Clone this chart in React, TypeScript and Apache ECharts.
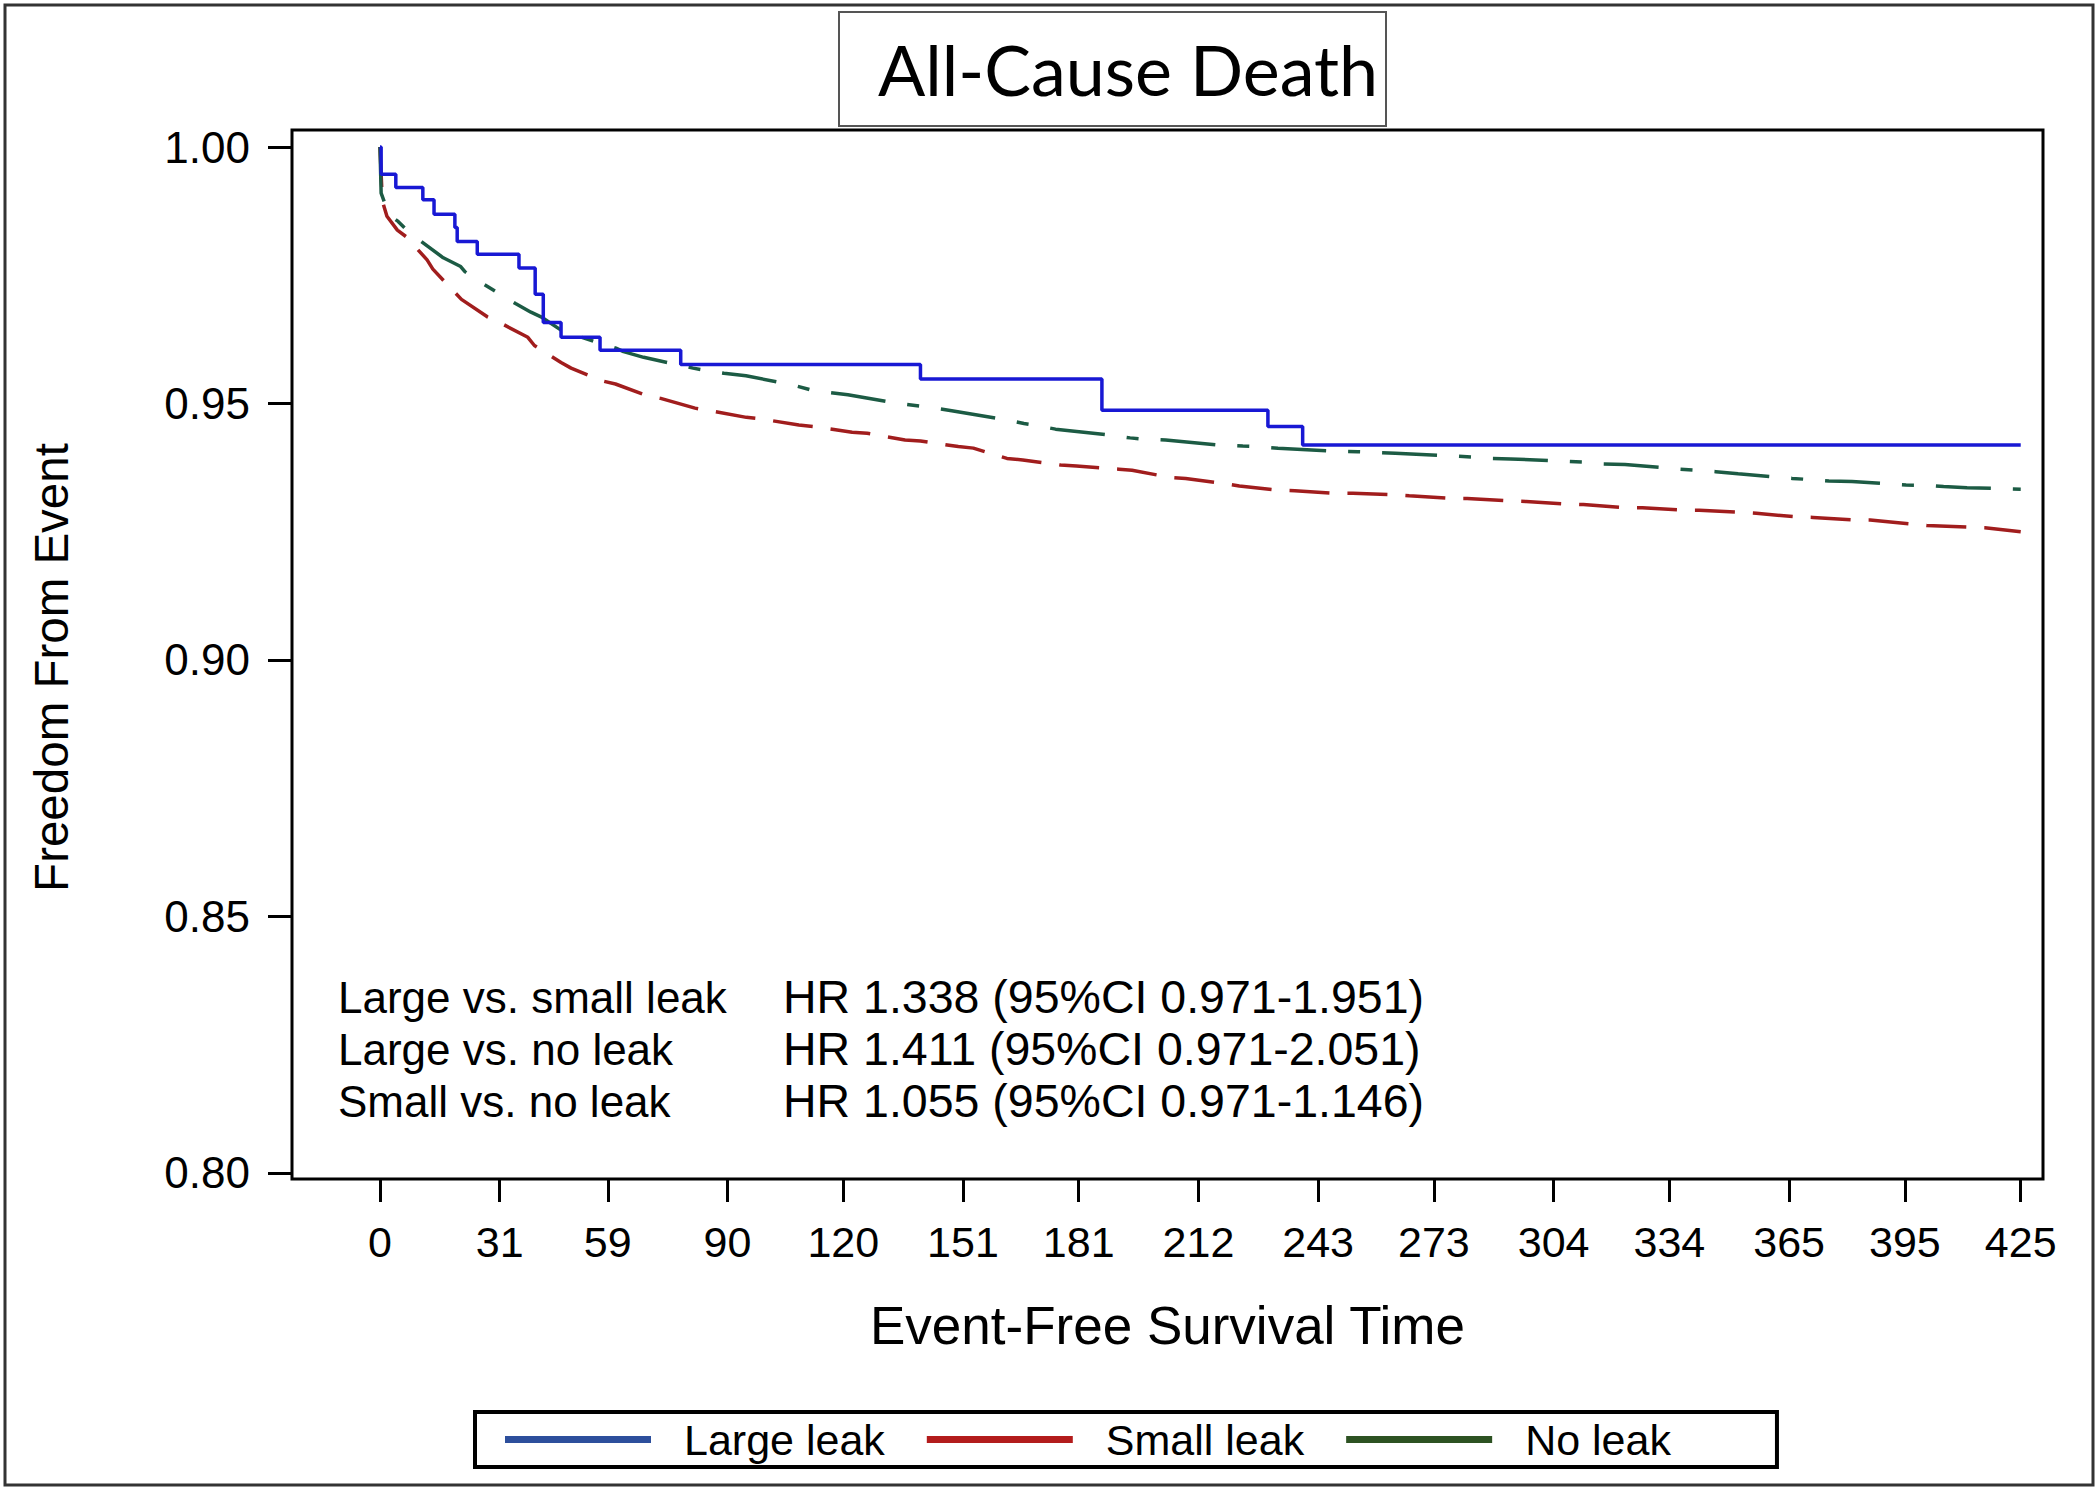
import React, { useEffect, useRef } from "react";
import * as echarts from "echarts";

// ---- data ----
const titleText = "All-Cause Death";
const seriesNames = ["Large leak", "Small leak", "No leak"];
const xTicks = [0, 31, 59, 90, 120, 151, 181, 212, 243, 273, 304, 334, 365, 395, 425];
const yTicks = [0.8, 0.85, 0.9, 0.95, 1.0];

// [day, survival]
const largeLeak = [
  [0, 1.0], [0.3, 0.9947], [4.1, 0.9921], [11.1, 0.9897], [14, 0.9869], [19.4, 0.9843],
  [20, 0.9816], [25.2, 0.9791], [36, 0.9764], [40.2, 0.9713], [42.3, 0.9658], [46.9, 0.9629],
  [57, 0.9604], [77.9, 0.9576], [140, 0.9548], [187, 0.9487], [230, 0.9455], [239, 0.9419],
  [425, 0.9419],
];

const smallLeak = [
  [0, 1.0], [0.6, 0.9895], [1.8, 0.9865], [4.5, 0.9838], [6.8, 0.9825], [12.2, 0.978],
  [13.7, 0.9762], [19.2, 0.9718], [21.1, 0.9703], [27.8, 0.9669], [30.7, 0.9659], [38.3, 0.9629],
  [40, 0.9613], [46.9, 0.958], [49.5, 0.9569], [57.6, 0.9544], [61, 0.9538], [69.2, 0.9515],
  [72.7, 0.951], [81.6, 0.9491], [85.4, 0.9486], [94.9, 0.9473], [98.7, 0.947], [108.5, 0.9458],
  [112.3, 0.9455], [122.3, 0.9444], [126.2, 0.9442], [136, 0.9429], [140, 0.9427], [149.8, 0.9416],
  [153.7, 0.9413], [162.4, 0.9393], [166.5, 0.939], [176.3, 0.938], [180.4, 0.9378], [191.4, 0.9372],
  [194.8, 0.937], [204.6, 0.9356], [208.7, 0.9354], [218.6, 0.9344], [222.6, 0.9339], [232.4, 0.9331],
  [237, 0.933], [247.4, 0.9325], [252, 0.9325], [262.4, 0.9322], [266.6, 0.932], [277.8, 0.9315],
  [281.6, 0.9315], [292.6, 0.931], [296.9, 0.9309], [307.6, 0.9304], [311.7, 0.9303], [322.6, 0.9297],
  [327, 0.9297], [337.7, 0.9292], [341.7, 0.9292], [352.7, 0.9288], [356.5, 0.9286], [367, 0.9279],
  [371.2, 0.9278], [382, 0.9273], [386, 0.9273], [397, 0.9265], [400.7, 0.9262], [411.6, 0.9259],
  [415.7, 0.9258], [425, 0.925],
];

const noLeak = [
  [0, 1.0], [0.3, 0.991], [1.5, 0.9885], [3, 0.9864], [4.7, 0.9855], [7.8, 0.9832], [16.4, 0.9784],
  [20.9, 0.9767], [22, 0.9757], [25.9, 0.9737], [35.1, 0.9695], [39.1, 0.9678], [41.7, 0.9669],
  [46.9, 0.9643], [56.2, 0.9619], [61.1, 0.9608], [63.1, 0.9601], [68.3, 0.959], [81.1, 0.9569],
  [86.3, 0.9562], [89.1, 0.9559], [94.8, 0.9554], [107, 0.9536], [112.3, 0.9525], [115.7, 0.9522],
  [121.2, 0.9517], [134.2, 0.95], [140, 0.9495], [142.9, 0.9492], [148.1, 0.9486], [160.8, 0.947],
  [166.8, 0.9461], [169.4, 0.9458], [175, 0.945], [188.5, 0.9439], [194.3, 0.9433], [197.2, 0.9431],
  [203.5, 0.9429], [217.4, 0.9419], [223.5, 0.9417], [227, 0.9416], [232.6, 0.9413], [247.4, 0.9407],
  [253.3, 0.9406], [256.7, 0.9405], [263, 0.9403], [277.5, 0.9398], [283.9, 0.9395], [286.4, 0.9393],
  [292.9, 0.9392], [307.3, 0.9387], [313.7, 0.9385], [316.8, 0.9382], [322.5, 0.9381], [336.8, 0.9372],
  [342.9, 0.9369], [346, 0.9367], [351.8, 0.9363], [365.8, 0.9354], [371.8, 0.9351], [375.3, 0.9349],
  [381.3, 0.9348], [395.3, 0.9341], [401.8, 0.934], [405, 0.9338], [411.1, 0.9336], [425, 0.9333],
];

const hrLabels = ["Large vs. small leak", "Large vs. no leak", "Small vs. no leak"];
const hrValues = [
  "HR 1.338 (95%CI 0.971-1.951)",
  "HR 1.411 (95%CI 0.971-2.051)",
  "HR 1.055 (95%CI 0.971-1.146)",
];

const FONT = '"Liberation Sans", Arial, Helvetica, sans-serif';
const lineColors = ["#1818d4", "#a11d1d", "#1c5b44"];
const legendColors = ["#2d4f9c", "#b31c1c", "#2d5222"];

export default function App() {
  const ref = useRef<HTMLDivElement>(null);

  useEffect(() => {
    if (!ref.current) return;
    const chart = echarts.init(ref.current, null, { renderer: "svg" });

    const gridLeft = 292;
    const gridTop = 130;
    const gridRight = 2043;
    const gridBottom = 1179;

    const hrGraphics: any[] = [];
    const rowY = [997, 1049, 1101];
    hrLabels.forEach((lab, i) => {
      hrGraphics.push({
        type: "text",
        x: 338,
        y: rowY[i],
        style: { text: lab, font: `44px ${FONT}`, fill: "#000", verticalAlign: "middle" },
      });
      hrGraphics.push({
        type: "text",
        x: 783,
        y: rowY[i],
        style: { text: hrValues[i], font: `46.5px ${FONT}`, fill: "#000", verticalAlign: "middle" },
      });
    });

    const option: any = {
      animation: false,
      backgroundColor: "#fff",
      grid: {
        left: gridLeft,
        top: gridTop,
        width: gridRight - gridLeft,
        height: gridBottom - gridTop,
        show: true,
        borderColor: "#000",
        borderWidth: 3,
        backgroundColor: "transparent",
      },
      xAxis: {
        type: "value",
        min: -22.79,
        max: 430.77,
        name: "Event-Free Survival Time",
        nameLocation: "middle",
        nameGap: 120,
        nameTextStyle: { fontFamily: FONT, fontSize: 53, color: "#000" },
        axisLine: { show: false, onZero: false },
        splitLine: { show: false },
        axisTick: {
          show: true,
          length: 23,
          customValues: xTicks,
          lineStyle: { color: "#000", width: 3 },
        },
        axisLabel: {
          customValues: xTicks,
          margin: 41,
          fontFamily: FONT,
          fontSize: 43,
          color: "#000",
          formatter: (v: number) => String(v),
        },
      },
      yAxis: {
        type: "value",
        min: 0.79883,
        max: 1.003314,
        name: "Freedom From Event",
        nameLocation: "middle",
        nameGap: 217,
        nameTextStyle: { fontFamily: FONT, fontSize: 47.5, color: "#000", padding: [0, 26, 0, 0] },
        axisLine: { show: false, onZero: false },
        splitLine: { show: false },
        axisTick: {
          show: true,
          length: 24,
          customValues: yTicks,
          lineStyle: { color: "#000", width: 3 },
        },
        axisLabel: {
          customValues: yTicks,
          margin: 42,
          fontFamily: FONT,
          fontSize: 44,
          color: "#000",
          formatter: (v: number) => v.toFixed(2),
        },
      },
      legend: {
        left: 475,
        top: 1412,
        orient: "horizontal",
        padding: [6, 106, 6, 30],
        borderColor: "#000",
        borderWidth: 4,
        itemWidth: 146,
        itemHeight: 7,
        itemGap: 42,
        selectedMode: false,
        textStyle: {
          fontFamily: FONT,
          fontSize: 43,
          color: "#000",
          padding: [0, 0, 0, 28],
        },
        data: seriesNames.map((n, i) => ({
          name: n,
          icon: "rect",
          itemStyle: { color: legendColors[i], borderWidth: 0 },
        })),
      },
      graphic: [
        {
          type: "rect",
          shape: { x: 5, y: 5, width: 2088, height: 1480 },
          style: { fill: "none", stroke: "#333", lineWidth: 3 },
          silent: true,
        },
        {
          type: "rect",
          shape: { x: 839, y: 12, width: 547, height: 114 },
          style: { fill: "#fff", stroke: "#555", lineWidth: 2 },
          silent: true,
        },
        {
          type: "text",
          x: 1128,
          y: 12 + 114 / 2,
          style: {
            text: titleText,
            font: `70px Lato, "Open Sans", sans-serif`,
            fill: "#000",
            align: "center",
            verticalAlign: "middle",
          },
          silent: true,
        },
        ...hrGraphics,
      ],
      series: [
        {
          name: seriesNames[0],
          type: "line",
          step: "end",
          data: largeLeak,
          showSymbol: false,
          symbol: "none",
          lineStyle: { color: lineColors[0], width: 3.5 },
          itemStyle: { color: lineColors[0] },
          z: 3,
        },
        {
          name: seriesNames[1],
          type: "line",
          data: smallLeak,
          showSymbol: false,
          symbol: "none",
          lineStyle: { color: lineColors[1], width: 3.5, type: [40, 18] },
          itemStyle: { color: lineColors[1] },
          z: 2,
        },
        {
          name: seriesNames[2],
          type: "line",
          data: noLeak,
          showSymbol: false,
          symbol: "none",
          lineStyle: { color: lineColors[2], width: 3.5, type: [55, 22, 12, 22] },
          itemStyle: { color: lineColors[2] },
          z: 2,
        },
      ],
    };

    chart.setOption(option);
    return () => {
      chart.dispose();
    };
  }, []);

  return (
    <div
      ref={ref}
      style={{ position: "absolute", left: 0, top: 0, width: 2100, height: 1493, background: "#fff" }}
    />
  );
}
